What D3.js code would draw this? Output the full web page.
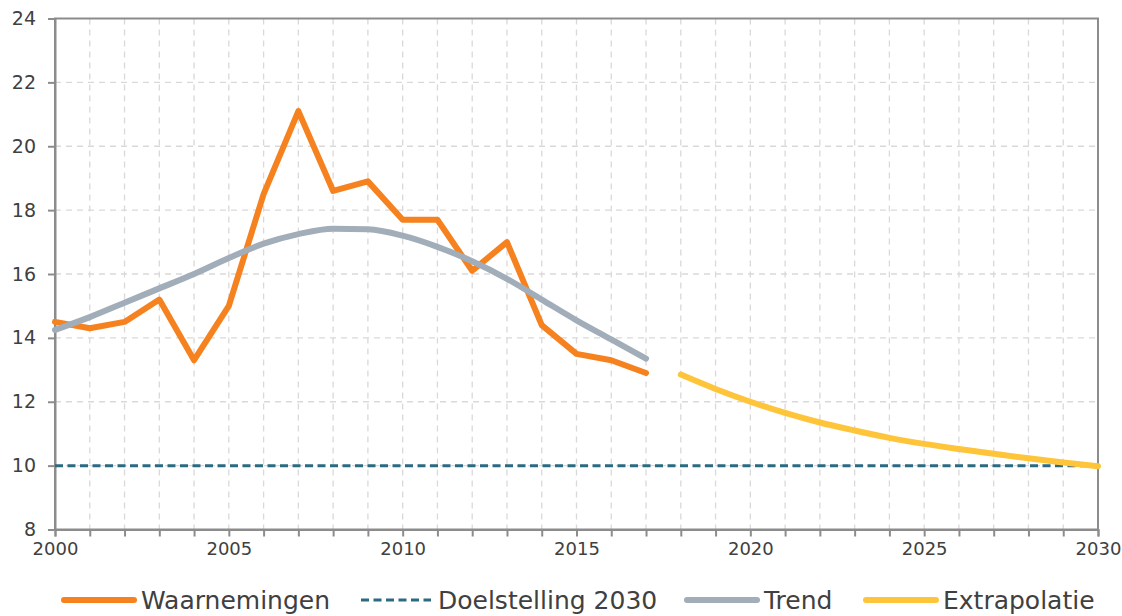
<!DOCTYPE html>
<html><head><meta charset="utf-8">
<script src="https://cdn.jsdelivr.net/npm/d3@7"></script>
<style>body{margin:0;background:#fff}svg{display:block}text{font-family:"DejaVu Sans",sans-serif;fill:#404040}</style>
</head><body><svg id="c" width="1122" height="616"></svg>
<script>
const obsYears = [2000,2001,2002,2003,2004,2005,2006,2007,2008,2009,2010,2011,2012,2013,2014,2015,2016,2017];
const waarnemingen = [14.5,14.3,14.5,15.2,13.3,15.0,18.5,21.1,18.6,18.9,17.7,17.7,16.1,17.0,14.4,13.5,13.3,12.9];
const trend = [14.25,14.65,15.1,15.55,16.0,16.5,16.95,17.25,17.42,17.4,17.2,16.85,16.4,15.85,15.2,14.55,13.95,13.35];
const extraYears = [2018,2019,2020,2021,2022,2023,2024,2025,2026,2027,2028,2029,2030];
const extrapolatie = [12.85,12.4,12.0,11.65,11.35,11.1,10.87,10.68,10.52,10.37,10.23,10.1,9.98];
const doelYears = [2000,2030];
const doelstelling = [10,10];
const yTicks = [8,10,12,14,16,18,20,22,24];
const xLabelTicks = [2000,2005,2010,2015,2020,2025,2030];
const legendLabels = ["Waarnemingen","Doelstelling 2030","Trend","Extrapolatie"];

const svg = d3.select("#c");
const L=55,R=1098,T=18.5,B=529.5;
const x = d3.scaleLinear().domain([2000,2030]).range([L,R]);
const y = d3.scaleLinear().domain([8,24]).range([B,T]);
const allYears = d3.range(2000,2031);

// grid
const g = svg.append("g");
g.selectAll(".vg").data(allYears.slice(1,-1)).join("line")
 .attr("x1",d=>x(d)).attr("x2",d=>x(d)).attr("y1",T).attr("y2",B)
 .attr("stroke","#d9d9d9").attr("stroke-width",1.3).attr("stroke-dasharray","6,5");
g.selectAll(".hg").data(yTicks.slice(1,-1)).join("line")
 .attr("x1",L).attr("x2",R).attr("y1",d=>y(d)).attr("y2",d=>y(d))
 .attr("stroke","#d9d9d9").attr("stroke-width",1.3).attr("stroke-dasharray","6,5");

// frame
svg.append("rect").attr("x",L).attr("y",T).attr("width",R-L).attr("height",B-T)
 .attr("fill","none").attr("stroke","#8c8c8c").attr("stroke-width",2);

// axes
const xAxis = d3.axisBottom(x).tickValues(allYears).tickSize(7).tickFormat(d=>xLabelTicks.includes(d)?d:"");
const xa = svg.append("g").attr("transform",`translate(0,${B})`).call(xAxis);
xa.select(".domain").attr("stroke","#8c8c8c").attr("stroke-width",2);
xa.selectAll(".tick line").attr("stroke","#8c8c8c").attr("stroke-width",2);
xa.selectAll(".tick text").attr("font-size",18).attr("dy","0.71em").attr("y",13).attr("font-family","DejaVu Sans").attr("fill","#404040");

const yAxis = d3.axisLeft(y).tickValues(yTicks).tickSize(7).tickFormat(d3.format("d"));
const ya = svg.append("g").attr("transform",`translate(${L},0)`).call(yAxis);
ya.select(".domain").attr("stroke","#8c8c8c").attr("stroke-width",2);
ya.selectAll(".tick line").attr("stroke","#8c8c8c").attr("stroke-width",2);
ya.selectAll(".tick text").attr("font-size",19).attr("x",-19).attr("font-family","DejaVu Sans").attr("fill","#404040");

const line = d3.line().x(d=>x(d[0])).y(d=>y(d[1]));
const colOrange="#f5821f", colTeal="#2c6a82", colGrey="#a2adba", colYellow="#ffc53a";

svg.append("path").datum(doelYears.map((d,i)=>[d,doelstelling[i]])).attr("d",line)
 .attr("fill","none").attr("stroke",colTeal).attr("stroke-width",3).attr("stroke-dasharray","8,4.5");
svg.append("path").datum(obsYears.map((d,i)=>[d,waarnemingen[i]])).attr("d",line)
 .attr("fill","none").attr("stroke",colOrange).attr("stroke-width",6).attr("stroke-linejoin","round").attr("stroke-linecap","round");
svg.append("path").datum(obsYears.map((d,i)=>[d,trend[i]])).attr("d",d3.line().curve(d3.curveMonotoneX).x(d=>x(d[0])).y(d=>y(d[1])))
 .attr("fill","none").attr("stroke",colGrey).attr("stroke-width",6).attr("stroke-linejoin","round").attr("stroke-linecap","round");
svg.append("path").datum(extraYears.map((d,i)=>[d,extrapolatie[i]])).attr("d",d3.line().curve(d3.curveMonotoneX).x(d=>x(d[0])).y(d=>y(d[1])))
 .attr("fill","none").attr("stroke",colYellow).attr("stroke-width",6).attr("stroke-linejoin","round").attr("stroke-linecap","round");

// legend
const legX=[64,361,687,866], colors=[colOrange,colTeal,colGrey,colYellow];
const ly=600;
legendLabels.forEach((lab,i)=>{
  const lg=svg.append("g");
  lg.append("line").attr("x1",legX[i]).attr("x2",legX[i]+70).attr("y1",ly).attr("y2",ly)
   .attr("stroke",colors[i]).attr("stroke-width",i==1?3:6).attr("stroke-linecap",i==1?"butt":"round")
   .attr("stroke-dasharray",i==1?"8,4.5":null);
  lg.append("text").attr("x",legX[i]+77).attr("y",ly+9).attr("font-size",25).text(lab);
});
</script></body></html>
